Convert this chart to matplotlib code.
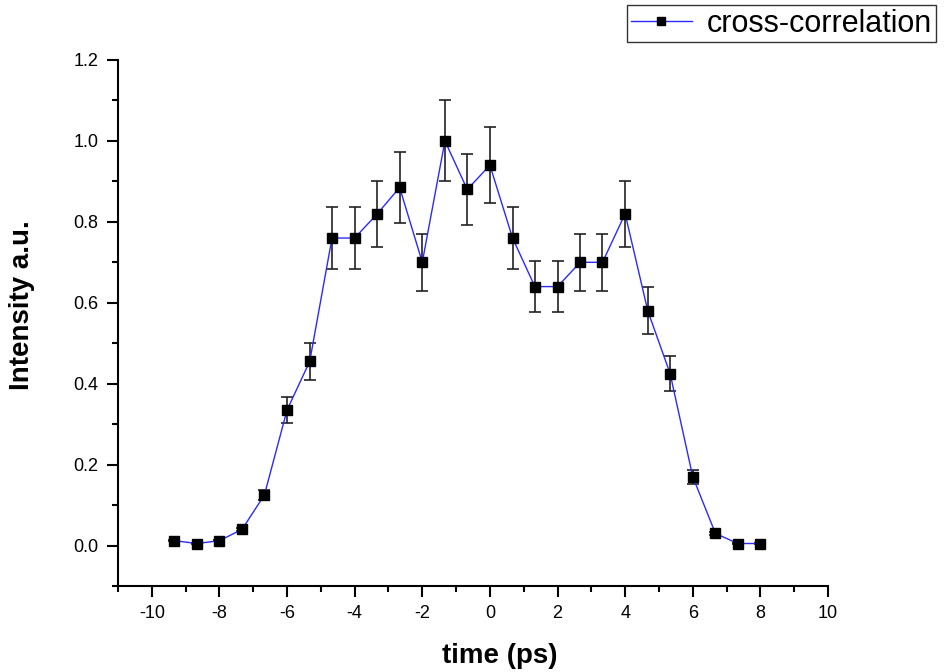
import matplotlib
matplotlib.use("Agg")
import matplotlib.pyplot as plt
from matplotlib.ticker import MultipleLocator

plt.rcParams['font.family'] = ['Liberation Sans', 'DejaVu Sans']

# delay (ps), normalised intensity and its error
time_ps = [-9.33, -8.67, -8.0, -7.33, -6.67, -6.0, -5.33, -4.67, -4.0, -3.33,
           -2.67, -2.0, -1.33, -0.67, 0.0, 0.67, 1.33, 2.0, 2.67, 3.33,
           4.0, 4.67, 5.33, 6.0, 6.67, 7.33, 8.0]
intensity = [0.012, 0.005, 0.012, 0.040, 0.125, 0.335, 0.455, 0.760, 0.760, 0.820,
             0.885, 0.700, 1.000, 0.880, 0.940, 0.760, 0.640, 0.640, 0.700, 0.700,
             0.820, 0.580, 0.425, 0.170, 0.030, 0.005, 0.005]
err = [0.001, 0.001, 0.001, 0.004, 0.012, 0.033, 0.045, 0.076, 0.076, 0.082,
       0.088, 0.070, 0.100, 0.088, 0.094, 0.076, 0.064, 0.064, 0.070, 0.070,
       0.082, 0.058, 0.043, 0.017, 0.003, 0.001, 0.001]

fig = plt.figure(figsize=(9.52, 6.72), dpi=100)
ax = fig.add_axes([118/952, 1-586/672, (828-118)/952, (586-60)/672])

ax.errorbar(time_ps, intensity, yerr=err, fmt='none', ecolor='#222222',
            elinewidth=1.2, capsize=4, capthick=1.2, zorder=2)
ax.plot(time_ps, intensity, color='#2a2aff', lw=1.0, marker='s', ms=7.5,
        mfc='black', mec='black', label='cross-correlation', zorder=3)

ax.set_xlim(-11, 10)
ax.set_ylim(-0.1, 1.2)
ax.xaxis.set_minor_locator(MultipleLocator(1))
ax.yaxis.set_major_locator(MultipleLocator(0.2))
ax.yaxis.set_minor_locator(MultipleLocator(0.1))
ax.yaxis.set_major_formatter(plt.FormatStrFormatter('%.1f'))
ax.set_xticks([-10, -8, -6, -4, -2, 0, 2, 4, 6, 8, 10])
ax.set_xticklabels(['-10', '-8', '-6', '-4', '-2', '0', '2', '4', '6', '8', '10'])

for s in ['top', 'right']:
    ax.spines[s].set_visible(False)
for s in ['left', 'bottom']:
    ax.spines[s].set_linewidth(1.5)
ax.tick_params(which='major', direction='out', length=8, width=1.5, labelsize=13, pad=6)
ax.tick_params(which='minor', direction='out', length=4, width=1.5)

ax.set_xlabel('time (ps)', fontsize=20, fontweight='bold', va='center', ha='center')
ax.set_ylabel('Intensity a.u.', fontsize=20, fontweight='bold', va='center', ha='center')
ax.xaxis.set_label_coords(0.538, -0.133)
ax.yaxis.set_label_coords(-0.135, 0.534)

leg = fig.legend(loc='upper left', bbox_to_anchor=(627/952, 1-5/672),
                 bbox_transform=fig.transFigure, borderaxespad=0, fancybox=False,
                 edgecolor='#333333', framealpha=1, fontsize=22, numpoints=1,
                 handlelength=2.0, markerscale=0.7, borderpad=0.12,
                 handletextpad=0.5)
leg.get_frame().set_linewidth(1.0)

fig.savefig('out.png', dpi=100)
